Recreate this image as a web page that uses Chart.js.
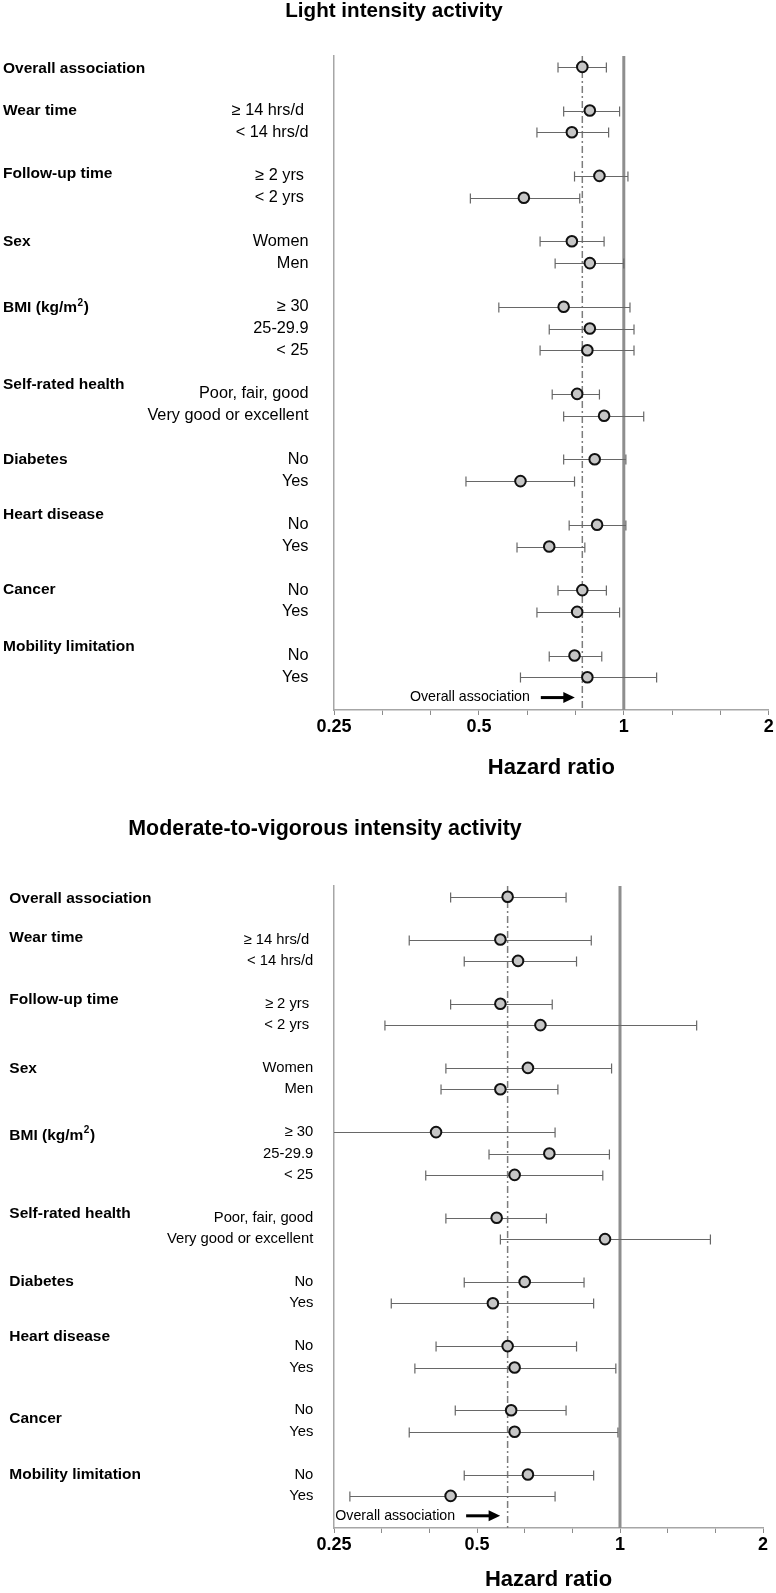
<!DOCTYPE html>
<html><head><meta charset="utf-8">
<script src="https://cdn.jsdelivr.net/npm/chart.js@4.4.0/dist/chart.umd.min.js"></script>
<style>
html,body{margin:0;padding:0;background:#fff;}
#c1{position:absolute;left:0;top:0;}
#c2{position:absolute;left:0;top:790px;}
</style></head><body>
<canvas id="c1" width="776" height="790"></canvas>
<canvas id="c2" width="776" height="803"></canvas>
<script>
// ---------- DATA ----------
const titleTop = 'Light intensity activity';
const titleBottom = 'Moderate-to-vigorous intensity activity';
const groupLabels = ['Overall association','Wear time','Follow-up time','Sex','BMI (kg/m2)','Self-rated health','Diabetes','Heart disease','Cancer','Mobility limitation'];
const groupRowsTop = [0.1, 2, 4.9, 8, 11.05, 14.6, 18, 20.55, 24, 26.6];
const groupRowsBottom = [0.1, 1.9, 4.82, 8.05, 11.15, 14.8, 18, 20.58, 24.41, 27.0];
const subLabels = ['', '\u2265 14 hrs/d ', '< 14 hrs/d', '\u2265 2 yrs ', '< 2 yrs ', 'Women', 'Men', '\u2265 30', '25-29.9', '< 25',
  'Poor, fair, good', 'Very good or excellent', 'No', 'Yes', 'No', 'Yes', 'No', 'Yes', 'No', 'Yes'];
const rowPositions = [0, 2, 3, 5, 6, 8, 9, 11, 12, 13, 15, 16, 18, 19, 21, 22, 24, 25, 27, 28];

// Light intensity activity: hazard ratio, lower and upper 95% CI
const hrTop = [0.82, 0.85, 0.78, 0.89, 0.62, 0.78, 0.85, 0.75, 0.85, 0.84, 0.80, 0.91, 0.87, 0.61, 0.88, 0.70, 0.82, 0.80, 0.79, 0.84];
const loTop = [0.73, 0.75, 0.66, 0.79, 0.48, 0.67, 0.72, 0.55, 0.70, 0.67, 0.71, 0.75, 0.75, 0.47, 0.77, 0.60, 0.73, 0.66, 0.70, 0.61];
const hiTop = [0.92, 0.98, 0.93, 1.02, 0.81, 0.91, 1.00, 1.03, 1.05, 1.05, 0.89, 1.10, 1.01, 0.79, 1.01, 0.83, 0.92, 0.98, 0.90, 1.17];

// Moderate-to-vigorous intensity activity
const hrBottom = [0.58, 0.56, 0.61, 0.56, 0.68, 0.64, 0.56, 0.41, 0.71, 0.60, 0.55, 0.93, 0.63, 0.54, 0.58, 0.60, 0.59, 0.60, 0.64, 0.44];
const loBottom = [0.44, 0.36, 0.47, 0.44, 0.32, 0.43, 0.42, 0.24, 0.53, 0.39, 0.43, 0.56, 0.47, 0.33, 0.41, 0.37, 0.45, 0.36, 0.47, 0.27];
const hiBottom = [0.77, 0.87, 0.81, 0.72, 1.45, 0.96, 0.74, 0.73, 0.95, 0.92, 0.70, 1.55, 0.84, 0.88, 0.81, 0.98, 0.77, 0.99, 0.88, 0.73];

const xTickValues = [0.25, 0.5, 1, 2];
const xTickLabels = ['0.25', '0.5', '1', '2'];
const xMinorTicks = [0.315, 0.397, 0.63, 0.794, 1.26, 1.587];
const axisTitle = 'Hazard ratio';
const referenceValue = 1;
const annotationText = 'Overall association';
const annotationRow = 28.93;
const rowMin = -0.5, rowMax = 29.5;

// ---------- DRAWING ----------
const FONT = '"Liberation Sans", Arial, sans-serif';

function makeChart(canvasId, title, hr, lo, hi, groupRows, st) {
  const overall = hr[0];
  const plugin = {
    id: 'forest_' + canvasId,
    beforeDatasetDraw(chart, args) {
      if (args.index !== 0) return;
      const ctx = chart.ctx, xs = chart.scales.x, ys = chart.scales.y, ca = chart.chartArea;
      ctx.save();
      ctx.beginPath(); ctx.rect(ca.left, ca.top - 10, ca.right - ca.left, ca.bottom - ca.top + 10); ctx.clip();
      ctx.strokeStyle = '#676767'; ctx.lineWidth = 1.2;
      lo.forEach((l, i) => {
        const y = Math.round(ys.getPixelForValue(rowPositions[i])) + 0.5;
        const x1 = xs.getPixelForValue(Math.max(l, 0.2));
        const x2 = xs.getPixelForValue(hi[i]);
        ctx.beginPath();
        ctx.moveTo(x1, y); ctx.lineTo(x2, y);
        if (l >= xs.min) { ctx.moveTo(x1, y - 5); ctx.lineTo(x1, y + 5); }
        ctx.moveTo(x2, y - 5); ctx.lineTo(x2, y + 5);
        ctx.stroke();
      });
      ctx.restore();
    },
    afterDraw(chart) {
      const ctx = chart.ctx, xs = chart.scales.x, ys = chart.scales.y;
      ctx.save();
      ctx.fillStyle = '#000';
      ctx.textBaseline = 'middle';
      // title
      ctx.font = 'bold ' + st.titleSize + 'px ' + FONT;
      ctx.textAlign = 'center';
      ctx.fillText(title, st.titleX, st.titleY);
      // group headers
      ctx.textAlign = 'left';
      groupLabels.forEach((g, i) => {
        const y = ys.getPixelForValue(groupRows[i]);
        ctx.font = 'bold ' + st.headSize + 'px ' + FONT;
        if (g.endsWith('m2)')) {
          const base = g.slice(0, -2);
          ctx.fillText(base, st.headX, y);
          let w = ctx.measureText(base).width;
          ctx.font = 'bold ' + (st.headSize * 0.65) + 'px ' + FONT;
          ctx.fillText('2', st.headX + w + 0.5, y - 5);
          w += ctx.measureText('2').width + 1;
          ctx.font = 'bold ' + st.headSize + 'px ' + FONT;
          ctx.fillText(')', st.headX + w, y);
        } else {
          ctx.fillText(g, st.headX, y);
        }
      });
      // sub labels
      ctx.textAlign = 'right';
      ctx.font = st.subSize + 'px ' + FONT;
      subLabels.forEach((s, i) => {
        if (!s) return;
        ctx.fillText(s, st.subRight, ys.getPixelForValue(rowPositions[i]));
      });
      // annotation
      const ox = xs.getPixelForValue(overall);
      const ay = ys.getPixelForValue(annotationRow);
      ctx.font = st.annSize + 'px ' + FONT;
      ctx.fillText(annotationText, ox - 52.5, ay);
      ctx.strokeStyle = '#000'; ctx.lineWidth = 3;
      ctx.beginPath(); ctx.moveTo(ox - 41.5, ay); ctx.lineTo(ox - 16, ay); ctx.stroke();
      ctx.beginPath();
      ctx.moveTo(ox - 7.5, ay); ctx.lineTo(ox - 19, ay - 5.5); ctx.lineTo(ox - 19, ay + 5.5); ctx.closePath(); ctx.fill();
      ctx.restore();
    }
  };

  return new Chart(document.getElementById(canvasId), {
    type: 'scatter',
    data: {
      datasets: [
        { type: 'scatter', data: rowPositions.map((r, i) => ({ x: hr[i], y: r })),
          pointRadius: 5.3, pointHoverRadius: 5.3, backgroundColor: '#c6c6c6', borderColor: '#111', borderWidth: 2 },
        { type: 'line', data: [{ x: overall, y: rowMin }, { x: overall, y: rowMax }],
          borderColor: '#7c7c7c', borderWidth: 1.5, borderDash: [7, 3, 2, 3], pointRadius: 0, fill: false },
        { type: 'line', data: [{ x: referenceValue, y: rowMin }, { x: referenceValue, y: rowMax }],
          borderColor: '#8e8e8e', borderWidth: 3, pointRadius: 0, fill: false }
      ]
    },
    options: {
      responsive: false, animation: false, devicePixelRatio: 1, events: [],
      layout: { padding: { left: st.padLeft, right: st.padRight, top: st.padTop, bottom: 0 } },
      plugins: { legend: { display: false }, tooltip: { enabled: false }, title: { display: false } },
      scales: {
        x: {
          type: 'logarithmic', min: 0.25, max: 2,
          afterBuildTicks: s => { s.ticks = xTickValues.concat(xMinorTicks).sort((a, b) => a - b).map(v => ({ value: v })); },
          afterFit: s => { s.height = st.axisHeight; },
          ticks: { autoSkip: false, maxRotation: 0, minRotation: 0, padding: 1, color: '#000',
            font: { family: FONT, size: 18, weight: 'bold' },
            callback: v => { const i = xTickValues.indexOf(v); return i >= 0 ? xTickLabels[i] : ''; } },
          grid: { display: true, drawOnChartArea: false, drawTicks: true, tickLength: 5, color: '#8c8c8c', lineWidth: 1 },
          border: { display: true, color: '#a6a6a6', width: 1.5 },
          title: { display: true, text: axisTitle, color: '#000', font: { family: FONT, size: 22, weight: 'bold' },
            padding: { top: 0, bottom: st.axisTitlePad } }
        },
        y: {
          type: 'linear', reverse: true, min: rowMin, max: rowMax,
          afterFit: s => { s.width = 0; },
          ticks: { display: false }, grid: { display: false, drawTicks: false },
          border: { display: true, color: '#a6a6a6', width: 1.5 }
        }
      }
    },
    plugins: [plugin]
  });
}

makeChart('c1', titleTop, hrTop, loTop, hiTop, groupRowsTop, {
  padLeft: 334, padRight: 6, padTop: 56, axisHeight: 80, axisTitlePad: 9,
  titleX: 394, titleY: 11, titleSize: 20.6, headX: 3, headSize: 15.5, subRight: 308.5, subSize: 16.3, annSize: 14.2
});
makeChart('c2', titleBottom, hrBottom, loBottom, hiBottom, groupRowsBottom, {
  padLeft: 334, padRight: 13, padTop: 96, axisHeight: 65, axisTitlePad: 0,
  titleX: 325, titleY: 39, titleSize: 21.4, headX: 9.3, headSize: 15.5, subRight: 313.3, subSize: 14.8, annSize: 14.2
});
</script>
</body></html>
